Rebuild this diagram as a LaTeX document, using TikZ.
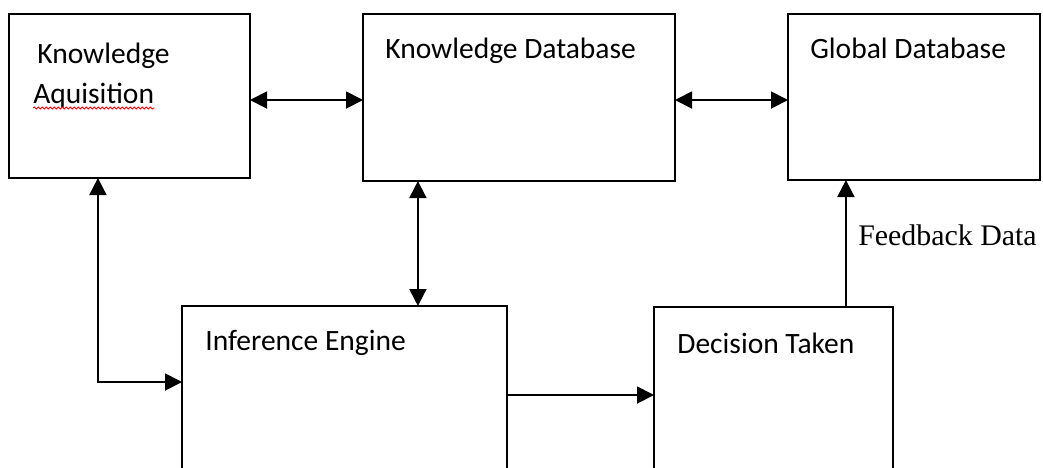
\documentclass[tikz,border=0pt]{standalone}
\usepackage{fontspec}
\setmainfont{Carlito}
\newfontfamily\feedbackfont{Liberation Serif}
\usetikzlibrary{arrows.meta,positioning,calc,decorations.pathmorphing}

\begin{document}
\begin{tikzpicture}[
    box/.style={rectangle, draw, line width=1.1pt, inner sep=0pt, outer sep=0pt},
    boxtext/.style={anchor=base west, inner sep=0pt, font=\fontsize{16.8}{20}\selectfont},
    arrow/.style={-{Triangle[length=3.4mm,width=3.4mm]}, line width=1.1pt},
    biarrow/.style={{Triangle[length=3.4mm,width=3.4mm]}-{Triangle[length=3.4mm,width=3.4mm]}, line width=1.1pt}
]
\useasboundingbox (0,0) rectangle (20.86,-9.34);
\clip (0,0) rectangle (20.86,-9.34);

% Top row
\node[box, minimum width=4.82cm, minimum height=3.28cm, anchor=north west] (acq) at (0.18,-0.28) {};
\node[box, minimum width=6.24cm, minimum height=3.34cm, below right=0cm and 2.26cm of acq.north east] (kdb) {};
\node[box, minimum width=5.04cm, minimum height=3.32cm, below right=0cm and 2.26cm of kdb.north east] (gdb) {};

% Bottom row
\node[box, minimum width=6.5cm, minimum height=4cm, below right=2.56cm and 3.46cm of acq.south west] (infer) {};
\node[box, minimum width=4.78cm, minimum height=4cm, below right=0.02cm and 2.94cm of infer.north east] (decision) {};

% Box texts
\node[boxtext] (acqtxt1) at ($(acq.north west)+(0.56,-0.98)$) {Knowledge};
\node[boxtext] (acqtxt2) at ($(acq.north west)+(0.48,-1.78)$) {Aquisition};
\draw[red, line width=0.5pt, decorate, decoration={snake, amplitude=0.2mm, segment length=0.8mm}]
    ($(acqtxt2.base west)+(0,-0.1)$) -- ($(acqtxt2.base east)+(0,-0.1)$);
\node[boxtext] (kdbtxt) at ($(kdb.north west)+(0.44,-0.88)$) {Knowledge Database};
\node[boxtext] (gdbtxt) at ($(gdb.north west)+(0.44,-0.88)$) {Global Database};
\node[boxtext] (infertxt) at ($(infer.north west)+(0.46,-0.88)$) {Inference Engine};
\node[boxtext] (decisiontxt) at ($(decision.north west)+(0.46,-0.93)$) {Decision Taken};

% Arrows
\draw[biarrow] ([yshift=-0.08cm]acq.east) -- ([yshift=-0.08cm]acq.east -| kdb.west);
\draw[biarrow] ([yshift=-0.05cm]kdb.east) -- ([yshift=-0.05cm]kdb.east -| gdb.west);

\coordinate (kdbdown) at ($(kdb.south west)!0.176!(kdb.south east)$);
\draw[biarrow] (kdbdown) -- (kdbdown |- infer.north);

\coordinate (acqdown) at ($(acq.south west)!0.369!(acq.south east)$);
\coordinate (inferin) at ($(infer.north west)+(0,-1.52)$);
\draw[biarrow] (inferin) -| (acqdown);

\coordinate (inferout) at ($(infer.north east)+(0,-1.78)$);
\draw[arrow] (inferout) -- (inferout -| decision.west);

\coordinate (decisionup) at ($(decision.north west)!0.803!(decision.north east)$);
\draw[arrow] (decisionup) -- (decisionup |- gdb.south);
\node[anchor=base west, inner sep=0pt, font=\feedbackfont\fontsize{17}{20}\selectfont] (feedback) at ($(gdb.south west)+(1.4,-1.3)$) {Feedback Data};

\end{tikzpicture}
\end{document}
